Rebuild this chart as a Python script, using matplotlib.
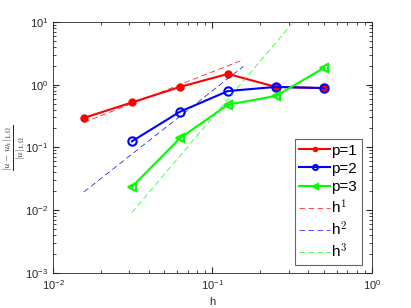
import numpy as np
import matplotlib
matplotlib.use("Agg")
import matplotlib.pyplot as plt

plt.rcParams['font.family'] = ['Liberation Sans', 'DejaVu Sans']
plt.rcParams['mathtext.fontset'] = 'cm'

# mesh sizes and relative errors
h = [1/64, 1/32, 1/16, 1/8, 1/4, 1/2]
err_p1 = [0.295, 0.52, 0.92, 1.48, 0.92, 0.88]
h2 = [1/32, 1/16, 1/8, 1/4, 1/2]
err_p2 = [0.125, 0.37, 0.79, 0.92, 0.88]
err_p3 = [0.0235, 0.14, 0.48, 0.66, 1.85]

# reference slopes
h_ref12 = np.array([1/64, 10/64])
h_ref3 = np.array([1/32, 10/32])
c1, c2, c3 = 16, 80, 300

fig = plt.figure(figsize=(4.11, 3.08), dpi=100)
ax = fig.add_axes([0.129, 0.114, 0.776, 0.815])

green = (0, 1, 0)
ax.loglog(h, err_p1, 'r.-', lw=1.5, ms=10, label='p=1')
ax.loglog(h2, err_p2, 'bo-', lw=1.5, ms=6, mfc='none', mew=1.5, label='p=2')
ax.loglog(h2, err_p3, '<-', color=green, lw=1.5, ms=6, mfc='none', mew=1.5, label='p=3')
ax.loglog(h_ref12, c1 * h_ref12, 'r--', lw=0.5, dashes=(8, 5), label='h$^1$')
ax.loglog(h_ref12, c2 * h_ref12**2, 'b--', lw=0.5, dashes=(8, 5), label='h$^2$')
ax.loglog(h_ref3, c3 * h_ref3**3, '--', color=green, lw=0.5, dashes=(8, 5), label='h$^3$')

ax.set_xlim(1e-2, 1e0)
ax.set_ylim(1e-3, 1e1)
ax.tick_params(which='both', direction='in', top=True, right=True, labelsize=8, colors='0.15')
ax.tick_params(which='major', length=4)
ax.tick_params(which='minor', length=2)
for s in ax.spines.values():
    s.set_color('0.15')
    s.set_linewidth(0.6)

ax.set_xlabel('h', fontsize=8, color='0.15')
ax.set_ylabel(r'$\dfrac{|u-u_h|_{1,\Omega}}{|u|_{1,\Omega}}$', fontsize=7, color='0.15')
ax.yaxis.set_label_coords(-0.08, 0.5)

leg = ax.legend(loc='lower right', bbox_to_anchor=(0.968, 0.03), fontsize=11, fancybox=False,
                framealpha=1, edgecolor='0.4', handlelength=2.0, borderpad=0.3,
                labelspacing=0.27, handletextpad=0.1, borderaxespad=0, markerscale=0.6)
leg.get_frame().set_linewidth(0.8)

fig.savefig('out.png', dpi=100)
